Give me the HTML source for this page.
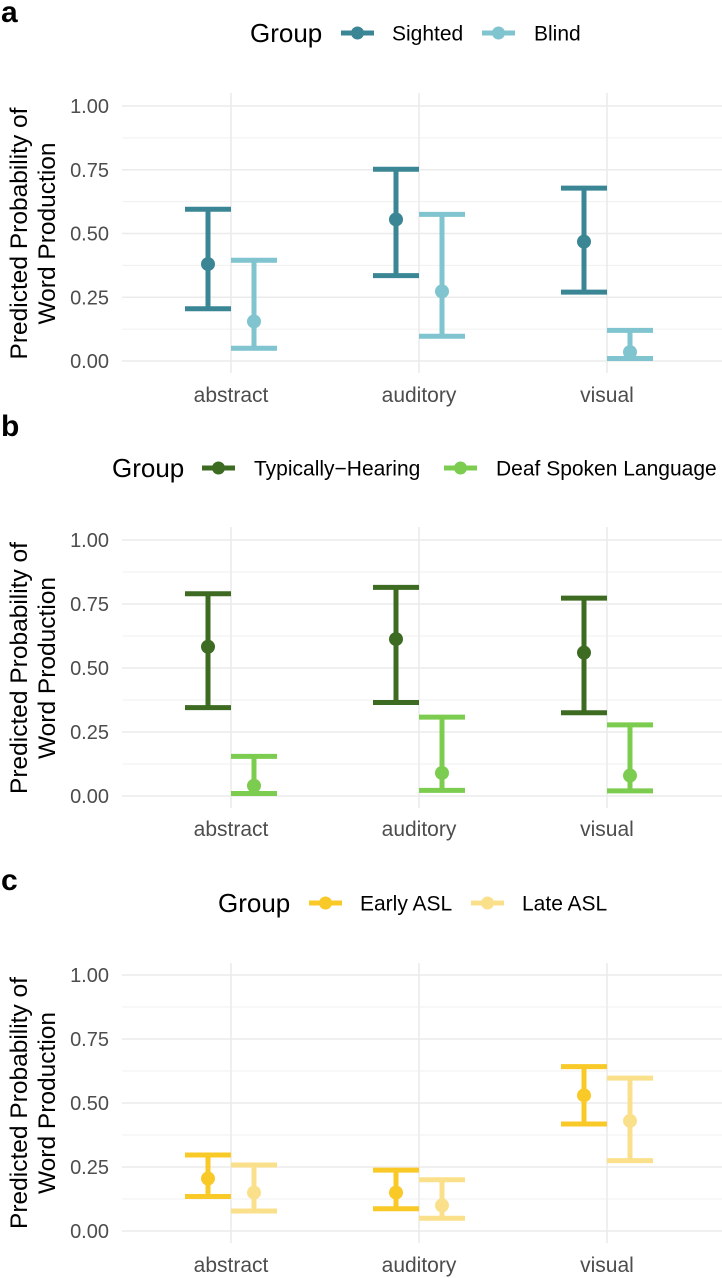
<!DOCTYPE html>
<html><head><meta charset="utf-8"><style>
body{margin:0;background:#fff;}
svg{display:block;font-family:"Liberation Sans",Arial,sans-serif;}
</style></head><body>
<svg id="chart" width="722" height="1278" viewBox="0 0 722 1278" xmlns="http://www.w3.org/2000/svg"></svg>
<script>
const categories = ["abstract","auditory","visual"];
const tickLabels = ["0.00","0.25","0.50","0.75","1.00"];
const tickValues = [0,0.25,0.5,0.75,1];
// Panel a
const aNames = ["Sighted","Blind"];
const aEst = [[0.38,0.555,0.468],[0.155,0.273,0.035]];
const aLo  = [[0.205,0.335,0.27],[0.05,0.097,0.01]];
const aHi  = [[0.595,0.752,0.678],[0.395,0.575,0.12]];
// Panel b
const bNames = ["Typically\u2212Hearing","Deaf Spoken Language"];
const bEst = [[0.583,0.613,0.56],[0.04,0.09,0.08]];
const bLo  = [[0.345,0.365,0.325],[0.01,0.022,0.02]];
const bHi  = [[0.79,0.815,0.773],[0.155,0.308,0.278]];
// Panel c
const cNames = ["Early ASL","Late ASL"];
const cEst = [[0.205,0.15,0.53],[0.15,0.1,0.43]];
const cLo  = [[0.135,0.087,0.418],[0.078,0.05,0.275]];
const cHi  = [[0.297,0.238,0.642],[0.258,0.2,0.597]];

const NS="http://www.w3.org/2000/svg";
const svg=document.getElementById('chart');
function mk(tag,attrs,parent){const e=document.createElementNS(NS,tag);for(const k in attrs)e.setAttribute(k,attrs[k]);(parent||svg).appendChild(e);return e;}

const panels=[
 {letter:"a",ly:22,legY:33,y1:106,y0:361,vTop:93,vBot:373,labY:402,names:aNames,est:aEst,lo:aLo,hi:aHi,cols:["#3b8694","#7fc4cf"],
  leg:{group:250,keys:[341,482],texts:[392,534]}},
 {letter:"b",ly:436,legY:468,y1:540,y0:796,vTop:527,vBot:808,labY:836,names:bNames,est:bEst,lo:bLo,hi:bHi,cols:["#3d6b22","#7ccc4f"],
  leg:{group:112,keys:[202,444],texts:[254,496]}},
 {letter:"c",ly:890,legY:903,y1:975,y0:1231,vTop:963,vBot:1243,labY:1272,names:cNames,est:cEst,lo:cLo,hi:cHi,cols:["#f9c928","#fbe08c"],
  leg:{group:218,keys:[309,471],texts:[360,522]}}
];
const xCat=i=>231+i*188;
const dodge=[-23,23];

panels.forEach(p=>{
  const g=mk('g',{});
  
  
  const yS=v=>p.y0+(p.y1-p.y0)*v;
  const lt=mk('text',{x:1,y:p.ly,'font-size':30,'font-weight':'bold',fill:'#000'},g);lt.textContent=p.letter;
  
  
  for(let i=0;i<4;i++){const v=0.125+0.25*i;const l=mk('line',{x1:122,x2:722,y1:yS(v),y2:yS(v),stroke:'#f0f0f0','stroke-width':1},g);
    
    }
  tickValues.forEach((v,i)=>{
    const l=mk('line',{x1:122,x2:722,y1:yS(v),y2:yS(v),stroke:'#ebebeb','stroke-width':1.6},g);
    
    
    const t=mk('text',{x:109,y:yS(v)+7,'text-anchor':'end','font-size':20,fill:'#4d4d4d'},g);t.textContent=tickLabels[i];
    
    
  });
  categories.forEach((c,i)=>{
    const l=mk('line',{x1:xCat(i),x2:xCat(i),y1:p.vTop,y2:p.vBot,stroke:'#ebebeb','stroke-width':1.6},g);
    
    
    const t=mk('text',{x:xCat(i),y:p.labY,'text-anchor':'middle','font-size':21,fill:'#4d4d4d'},g);t.textContent=c;
    
    
  });
  const yc=(p.y0+p.y1)/2;
  const t1=mk('text',{x:0,y:0,'text-anchor':'middle','font-size':24.5,fill:'#000',transform:`translate(27,${yc}) rotate(-90)`},g);t1.textContent="Predicted Probability of";
  
  
  const t2=mk('text',{x:0,y:0,'text-anchor':'middle','font-size':24.5,fill:'#000',transform:`translate(55,${yc}) rotate(-90)`},g);t2.textContent="Word Production";
  
  
  p.names.forEach((n,s)=>{
    categories.forEach((c,i)=>{
      const x=xCat(i)+dodge[s];const col=p.cols[s];
      const eg=mk('g',{stroke:col,'stroke-width':5,fill:col},g);
      
      
      mk('line',{x1:x,x2:x,y1:yS(p.lo[s][i]),y2:yS(p.hi[s][i])},eg);
      mk('line',{x1:x-23,x2:x+23,y1:yS(p.lo[s][i]),y2:yS(p.lo[s][i])},eg);
      mk('line',{x1:x-23,x2:x+23,y1:yS(p.hi[s][i]),y2:yS(p.hi[s][i])},eg);
      const pt=mk('circle',{cx:x,cy:yS(p.est[s][i]),r:7,stroke:'none'},eg);
      
      
    });
  });
  const lg=mk('g',{},g);
  
  
  const gt=mk('text',{x:p.leg.group,y:p.legY+9,'font-size':26,fill:'#000'},lg);gt.textContent="Group";
  
  
  p.names.forEach((n,s)=>{
    const k=p.leg.keys[s];
    const e=mk('g',{},lg);
    
    
    mk('line',{x1:k,x2:k+33,y1:p.legY,y2:p.legY,stroke:p.cols[s],'stroke-width':5},e);
    mk('circle',{cx:k+16.5,cy:p.legY,r:6.5,fill:p.cols[s]},e);
    const tt=mk('text',{x:p.leg.texts[s],y:p.legY+7.5,'font-size':21,fill:'#000'},e);tt.textContent=n;
  });
});
</script>
</body></html>
